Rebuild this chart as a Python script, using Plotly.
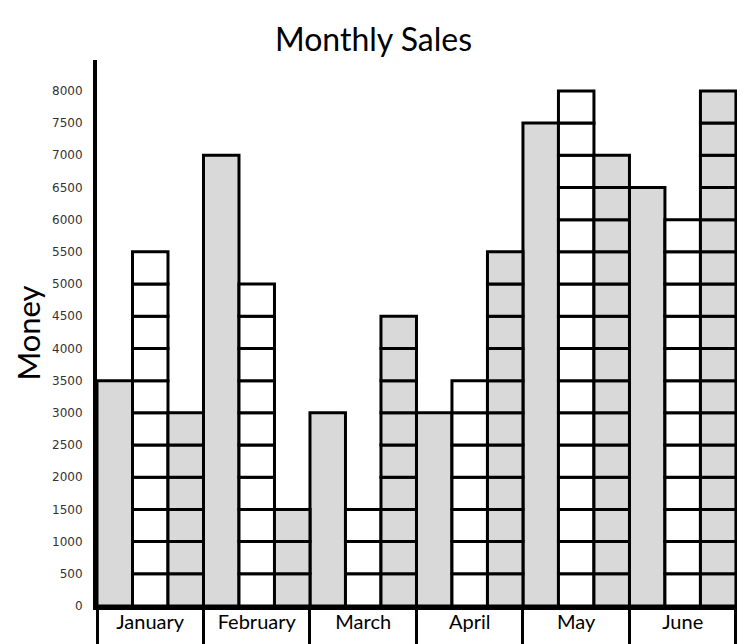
import plotly.graph_objects as go

months = ["January", "February", "March", "April", "May", "June"]
sales_a = [3500, 7000, 3000, 3000, 7500, 6500]
sales_b = [5500, 5000, 1500, 3500, 8000, 6000]
sales_c = [3000, 1500, 4500, 5500, 7000, 8000]
step = 500
y_ticks = list(range(0, 8001, 500))

GRAY = "#d9d9d9"


def blocks(values):
    # split each bar into 500-high blocks so the lines show inside the bar
    xs, bases = [], []
    for m, v in zip(months, values):
        for b in range(0, v, step):
            xs.append(m)
            bases.append(b)
    return xs, bases


fig = go.Figure()

fig.add_trace(go.Bar(
    x=months, y=sales_a, offset=-0.5, width=1 / 3, cliponaxis=False,
    marker=dict(color=GRAY, line=dict(color="black", width=3)),
))

xb, bb = blocks(sales_b)
fig.add_trace(go.Bar(
    x=xb, y=[step] * len(xb), base=bb, offset=-1 / 6, width=1 / 3,
    cliponaxis=False,
    marker=dict(color="white", line=dict(color="black", width=3)),
))

xc, bc = blocks(sales_c)
fig.add_trace(go.Bar(
    x=xc, y=[step] * len(xc), base=bc, offset=1 / 6, width=1 / 3,
    cliponaxis=False,
    marker=dict(color=GRAY, line=dict(color="black", width=3)),
))

fig.update_layout(
    width=744, height=644,
    margin=dict(l=97, r=744 - 737, t=60, b=644 - 606),
    barmode="overlay",
    showlegend=False,
    plot_bgcolor="white",
    paper_bgcolor="white",
    title=dict(
        text="Monthly Sales", x=373.5 / 744, xanchor="center",
        xref="container",
        y=1 - 40 / 644, yanchor="middle", yref="container",
        font=dict(family="Lato", size=32, color="black"),
    ),
)

fig.update_xaxes(
    type="category", categoryorder="array", categoryarray=months,
    range=[-0.5, 5.51], automargin=False,
    showline=True, linecolor="black", linewidth=4,
    tickson="boundaries", ticks="outside", ticklen=40, tickwidth=3,
    tickcolor="black", ticklabelstandoff=-5,
    tickfont=dict(family="Lato", size=20, color="black"),
    showgrid=False,
)

fig.update_yaxes(
    range=[0, 8480], automargin=False,
    tickvals=y_ticks,
    showline=True, linecolor="black", linewidth=4,
    ticks="", ticklabelstandoff=8,
    tickfont=dict(family="DejaVu Sans", size=12, color="#333333"),
    showgrid=False, zeroline=False,
    title=dict(text="Money", font=dict(family="Lato", size=31, color="black"),
               standoff=3),
)

# drop the default 8px page margin so the figure fills the window exactly
fig.write_html(
    "out.html",
    config={"displayModeBar": False},
    post_script="document.body.style.margin='0';"
                "document.body.style.overflow='hidden';",
)
